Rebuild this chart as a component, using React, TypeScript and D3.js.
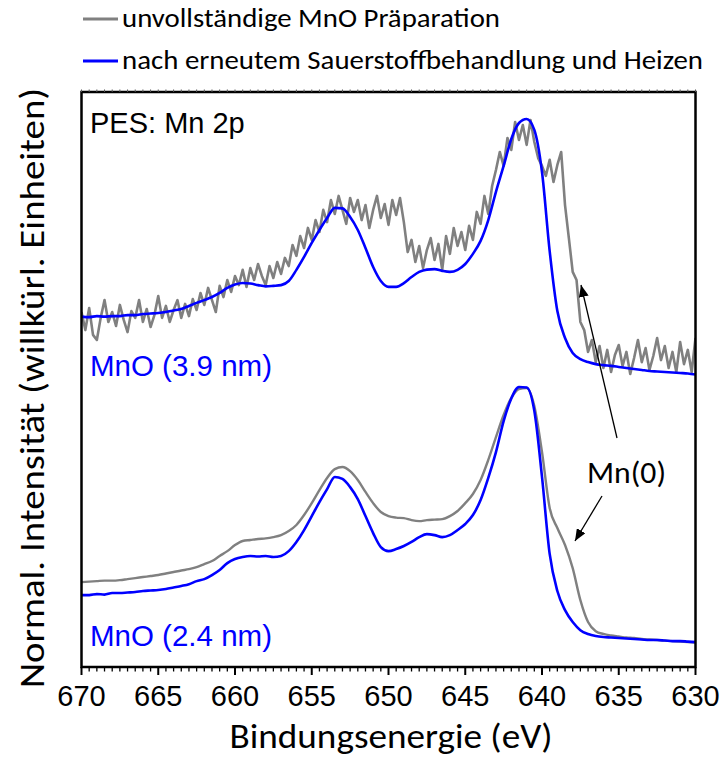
import React from 'react';
import * as d3 from 'd3';

// Binding-energy grids (eV), descending as on the axis
const energyCoarse: number[] = d3.range(81).map((i) => 670 - 0.5 * i);
const energyFine: number[] = d3.range(161).map((i) => 670 - 0.25 * i);

// Normalised Mn 2p intensities (%), baseline at the low-energy end = 0
// MnO (2.4 nm) – after renewed oxygen treatment and heating
const blue24: number[] = [
  18.1, 18.1, 18.5, 18.3, 18.9, 18.9, 19.1, 19.3, 19.7, 19.9,
  20.1, 20.5, 21.1, 21.7, 22.4, 23.6, 24.4, 26.0, 28.0, 30.7,
  32.3, 33.1, 33.5, 33.3, 33.5, 33.1, 33.5, 35.4, 39.0, 43.7,
  49.2, 54.7, 59.8, 64.6, 63.8, 60.6, 55.9, 49.2, 42.5, 37.0,
  35.4, 36.2, 37.4, 39.0, 40.9, 42.1, 41.7, 40.9, 41.7, 43.7,
  46.1, 49.6, 55.5, 64.2, 74.4, 86.6, 95.5, 100.0, 99.8, 90.6,
  64.6, 34.3, 19.7, 12.2, 7.5, 4.3, 2.8, 2.0, 1.6, 1.4,
  1.2, 1.0, 0.8, 0.6, 0.4, 0.4, 0.2, 0.0, 0.0, -0.2,
  -0.4,
];
// MnO (2.4 nm) – incomplete MnO preparation
const gray24: number[] = [
  23.2, 23.4, 23.6, 23.8, 23.8, 24.0, 24.4, 24.8, 25.2, 25.6,
  26.0, 26.6, 27.2, 27.8, 28.3, 29.1, 30.3, 31.5, 33.5, 35.4,
  37.8, 39.4, 39.8, 40.2, 40.4, 40.9, 41.7, 43.3, 45.7, 49.6,
  54.3, 59.4, 64.2, 67.7, 68.5, 66.9, 63.4, 58.7, 54.3, 50.8,
  49.2, 48.6, 48.4, 47.6, 47.2, 47.6, 47.8, 48.0, 49.2, 51.2,
  54.3, 57.9, 63.4, 71.3, 80.3, 89.0, 95.7, 99.2, 99.6, 92.5,
  74.4, 52.4, 44.5, 37.8, 28.7, 16.1, 7.5, 3.9, 2.8, 2.2,
  1.8, 1.4, 1.2, 0.8, 0.6, 0.4, 0.2, 0.0, -0.2, -0.4,
  -0.6,
];
// MnO (3.9 nm) – after renewed oxygen treatment and heating
const blue39: number[] = [
  22.2, 22.0, 22.4, 22.2, 22.4, 22.4, 22.8, 22.8, 23.2, 23.4,
  23.6, 24.0, 24.6, 25.2, 26.4, 27.6, 28.7, 29.9, 31.5, 33.5,
  34.8, 35.4, 35.2, 34.6, 34.1, 34.3, 34.6, 36.2, 40.6, 45.7,
  51.2, 56.3, 61.0, 65.0, 64.8, 61.4, 56.3, 49.2, 41.7, 36.2,
  33.9, 33.9, 35.4, 37.8, 39.8, 40.7, 40.9, 40.2, 39.8, 40.6,
  42.9, 46.9, 52.0, 60.2, 71.3, 81.5, 92.1, 98.4, 100.0, 95.7,
  79.1, 48.0, 24.4, 13.8, 7.9, 5.5, 4.3, 3.5, 3.1, 2.8,
  2.4, 2.0, 1.6, 1.2, 0.8, 0.6, 0.4, 0.2, 0.0, -0.2,
  -0.6,
];
// MnO (3.9 nm) – incomplete MnO preparation (0.25 eV steps)
const gray39: number[] = [
  24.0, 16.9, 25.6, 15.0, 13.0, 21.7, 28.7, 20.1, 24.0, 18.5,
  26.8, 20.9, 16.1, 24.4, 21.7, 28.7, 20.1, 25.2, 18.1, 22.8,
  30.3, 21.7, 26.4, 20.1, 24.8, 28.7, 21.7, 27.2, 22.4, 29.1,
  24.8, 31.5, 26.8, 33.5, 28.7, 24.0, 34.3, 29.9, 36.6, 31.9,
  38.2, 34.6, 40.6, 33.9, 41.3, 36.6, 42.9, 38.2, 34.6, 42.1,
  37.4, 43.7, 39.0, 45.3, 42.1, 50.4, 46.1, 53.9, 49.2, 57.1,
  52.4, 60.2, 55.5, 64.2, 59.4, 68.1, 62.6, 69.7, 64.2, 58.7,
  68.9, 63.4, 68.1, 60.2, 66.1, 57.1, 64.2, 69.7, 61.0, 66.5,
  58.3, 68.1, 62.2, 68.9, 59.4, 47.6, 52.4, 43.7, 50.0, 41.3,
  48.4, 53.1, 44.5, 50.8, 40.6, 53.9, 46.9, 57.1, 50.0, 55.5,
  48.4, 57.9, 52.4, 63.4, 58.7, 69.7, 62.6, 73.6, 79.9, 87.0,
  81.5, 92.5, 87.8, 98.8, 91.7, 97.6, 89.8, 99.6, 90.9, 84.6,
  81.5, 77.6, 83.9, 75.2, 81.9, 87.0, 66.1, 53.1, 39.8, 36.6,
  20.1, 16.9, 8.3, 13.0, 4.3, 10.6, 2.0, 9.1, 0.4, 7.1,
  11.0, 2.8, 8.3, -0.4, 5.9, 13.0, 4.3, 9.8, 1.2, 6.7,
  13.8, 5.1, 10.6, 2.0, 8.3, 0.4, 12.2, 3.5, 9.1, 0.4,
  13.8,
];

// Vertical stacking of the thicker film spectra
const offset39 = 105.5;

const xTickLabels: number[] = [670, 665, 660, 655, 650, 645, 640, 635, 630];
const legendLabels: string[] = [
  'unvollständige MnO Präparation',
  'nach erneutem Sauerstoffbehandlung und Heizen',
];

const W = 724;
const H = 758;
const left = 81.5;
const right = 695.5;
const top = 92;
const bottom = 667;

const ARIAL = '"Liberation Sans", Arial, sans-serif';
const CALIBRI = 'Carlito, Lato, "Open Sans", sans-serif';
const BLUE = '#0000ff';
const GRAY = '#808080';

type Pt = { e: number; v: number };

export default function App() {
  const x = d3.scaleLinear().domain([670, 630]).range([left, right]);
  const y = d3.scaleLinear().domain([-10.2, 216.1]).range([bottom, top]);

  const pts = (es: number[], vs: number[], off: number): Pt[] =>
    vs.map((v, i) => ({ e: es[i], v: v + off }));

  const smooth = d3
    .line<Pt>()
    .x((d) => x(d.e))
    .y((d) => y(d.v))
    .curve(d3.curveMonotoneX);
  const raw = d3
    .line<Pt>()
    .x((d) => x(d.e))
    .y((d) => y(d.v));

  const minorTicks = d3.range(81).map((i) => 630 + 0.5 * i);

  return (
    <svg
      width={W}
      height={H}
      viewBox={`0 0 ${W} ${H}`}
      style={{ position: 'absolute', left: 0, top: 0, background: '#fff' }}
    >
      <defs>
        <clipPath id="plotClip">
          <rect x={left} y={top} width={right - left} height={bottom - top} />
        </clipPath>
        <marker
          id="head"
          viewBox="0 0 12 10"
          refX="12"
          refY="5"
          markerWidth="12"
          markerHeight="10"
          markerUnits="userSpaceOnUse"
          orient="auto"
        >
          <path d="M0,0 L12,5 L0,10 Z" fill="#000" />
        </marker>
      </defs>

      {/* legend */}
      <g>
        <line x1={83} x2={118} y1={19} y2={19} stroke={GRAY} strokeWidth={3} />
        <text x={122} y={27} fontFamily={CALIBRI} fontSize={27} fill="#000"
          textLength={378} lengthAdjust="spacingAndGlyphs">
          {legendLabels[0]}
        </text>
        <line x1={83} x2={118} y1={61} y2={61} stroke={BLUE} strokeWidth={3} />
        <text x={122} y={69} fontFamily={CALIBRI} fontSize={27} fill="#000"
          textLength={581} lengthAdjust="spacingAndGlyphs">
          {legendLabels[1]}
        </text>
      </g>

      {/* spectra */}
      <g clipPath="url(#plotClip)" fill="none" strokeLinejoin="round">
        <path d={raw(pts(energyFine, gray39, offset39)) || ''} stroke={GRAY} strokeWidth={2.6} />
        <path d={smooth(pts(energyCoarse, blue39, offset39)) || ''} stroke={BLUE} strokeWidth={2.6} />
        <path d={smooth(pts(energyCoarse, gray24, 0)) || ''} stroke={GRAY} strokeWidth={2.4} />
        <path d={smooth(pts(energyCoarse, blue24, 0)) || ''} stroke={BLUE} strokeWidth={2.6} />
      </g>

      {/* frame */}
      <rect x={left} y={top} width={right - left} height={bottom - top}
        fill="none" stroke="#000" strokeWidth={2.5} />

      {/* x ticks (outward) */}
      <g stroke="#000">
        {minorTicks.map((t) => {
          const major = Math.abs(t % 5) < 1e-6;
          return (
            <line key={`b${t}`} x1={x(t)} x2={x(t)} y1={bottom}
              y2={bottom + (major ? 8 : 4.5)} strokeWidth={major ? 2 : 1.3} />
          );
        })}
        {minorTicks.map((t) => (
          <line key={`t${t}`} x1={x(t)} x2={x(t)} y1={top} y2={top - 2.5}
            strokeWidth={1} stroke="#555" />
        ))}
      </g>
      <g fontFamily={ARIAL} fontSize={29} textAnchor="middle" fill="#000">
        {xTickLabels.map((t) => (
          <text key={t} x={x(t)} y={706}>{t}</text>
        ))}
      </g>

      {/* axis titles */}
      <text x={391} y={748} fontFamily={CALIBRI} fontSize={35} textAnchor="middle"
        textLength={323} lengthAdjust="spacingAndGlyphs" fill="#000">
        Bindungsenergie (eV)
      </text>
      <text transform="translate(44,388) rotate(-90)" fontFamily={CALIBRI} fontSize={35}
        textAnchor="middle" textLength={600} lengthAdjust="spacingAndGlyphs" fill="#000">
        Normal. Intensität (willkürl. Einheiten)
      </text>

      {/* annotations */}
      <text x={90} y={133} fontFamily={ARIAL} fontSize={29} fill="#000">PES: Mn 2p</text>
      <text x={90} y={376} fontFamily={ARIAL} fontSize={29.5} fill={BLUE}>MnO (3.9 nm)</text>
      <text x={90} y={646} fontFamily={ARIAL} fontSize={29.5} fill={BLUE}>MnO (2.4 nm)</text>
      <text x={587} y={483} fontFamily={CALIBRI} fontSize={31} fill="#000"
        textLength={79} lengthAdjust="spacingAndGlyphs">Mn(0)</text>
      <line x1={617} y1={438} x2={581} y2={285} stroke="#000" strokeWidth={1.3}
        markerEnd="url(#head)" />
      <line x1={602} y1={496} x2={575} y2={541} stroke="#000" strokeWidth={1.3}
        markerEnd="url(#head)" />
    </svg>
  );
}
